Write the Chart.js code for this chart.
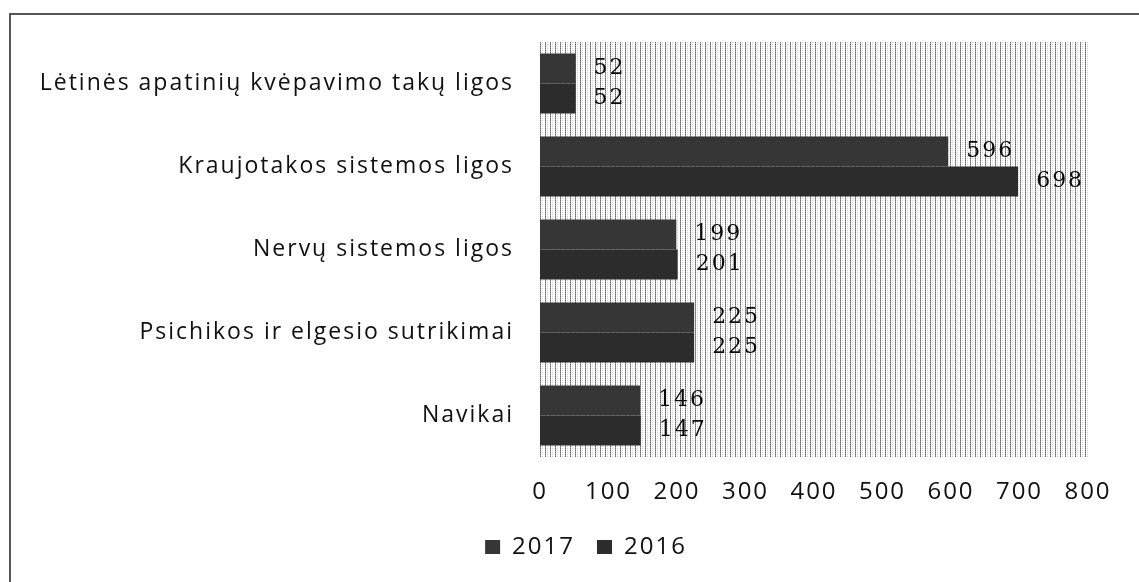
<!DOCTYPE html>
<html><head><meta charset="utf-8">
<script src="https://cdn.jsdelivr.net/npm/chart.js@4"></script>
<style>
html,body{margin:0;padding:0;background:#fff;}
#wrap{position:relative;width:1139px;height:582px;overflow:hidden;}
#frame{position:absolute;left:9px;top:13px;right:-4px;bottom:-4px;border-left:2px solid #555;border-top:2px solid #555;pointer-events:none;}
canvas{position:absolute;left:0;top:0;}
</style></head><body>
<div id="wrap"><canvas id="c" width="1139" height="582"></canvas><div id="frame"></div></div>
<script>
const categories = [
  'Lėtinės apatinių kvėpavimo takų ligos',
  'Kraujotakos sistemos ligos',
  'Nervų sistemos ligos',
  'Psichikos ir elgesio sutrikimai',
  'Navikai'
];
const seriesNames = ['2017', '2016'];
const values2017 = [52, 596, 199, 225, 146];
const values2016 = [52, 698, 201, 225, 147];
const xMin = 0, xMax = 800, xStep = 100;

// hatched plot background pattern
const pc = document.createElement('canvas');
pc.width = 5; pc.height = 2;
const p = pc.getContext('2d');
p.fillStyle = '#fff'; p.fillRect(0,0,5,2);
p.fillStyle = '#6a6a6a'; p.fillRect(0,0,1,1);
p.fillStyle = '#9a9a9a'; p.fillRect(0,1,1,1);
p.fillStyle = '#d0d0d0'; p.fillRect(2,0,1,1);
const c = document.getElementById('c');
const hatch = c.getContext('2d').createPattern(pc, 'repeat');

const spacing = {
  id: 'spacing',
  beforeInit(chart) { chart.ctx.letterSpacing = '2px'; },
  beforeLayout(chart) { chart.ctx.letterSpacing = '2px'; },
  afterLayout(chart) { if (chart.legend) chart.legend.left = 84; },
  beforeDraw(chart) { chart.ctx.letterSpacing = '2px'; }
};
const plotBg = {
  id: 'plotBg',
  beforeDatasetsDraw(chart) {
    const {ctx, chartArea: a} = chart;
    ctx.save();
    ctx.fillStyle = hatch;
    ctx.fillRect(a.left, a.top, a.right - a.left, a.bottom - a.top);
    ctx.restore();
  }
};
const valueLabels = {
  id: 'valueLabels',
  afterDatasetsDraw(chart) {
    const ctx = chart.ctx;
    ctx.save();
    ctx.letterSpacing = '2px';
    ctx.font = '22px "DejaVu Serif"';
    ctx.fillStyle = '#0a0a0a';
    ctx.textAlign = 'left';
    ctx.textBaseline = 'middle';
    chart.data.datasets.forEach((ds, di) => {
      chart.getDatasetMeta(di).data.forEach((el, i) => {
        ctx.fillText(String(ds.data[i]), el.x + 18, el.y);
      });
    });
    ctx.restore();
  }
};

Chart.defaults.font.family = '"Open Sans", sans-serif';
Chart.defaults.color = '#111';

new Chart(c, {
  type: 'bar',
  data: {
    labels: categories,
    datasets: [
      {label: seriesNames[0], data: values2017, backgroundColor: '#363636'},
      {label: seriesNames[1], data: values2016, backgroundColor: '#2c2c2c'}
    ]
  },
  options: {
    indexAxis: 'y',
    responsive: false,
    animation: false,
    devicePixelRatio: 1,
    categoryPercentage: 0.72,
    barPercentage: 1.0,
    layout: {padding: {left: 0, top: 42, right: 51, bottom: 13}},
    scales: {
      x: {
        min: xMin, max: xMax,
        ticks: {stepSize: xStep, font: {size: 24}, padding: 21, color: '#111'},
        grid: {display: false, drawTicks: false},
        border: {display: false},
        afterFit(s) { s.height = 56; }
      },
      y: {
        ticks: {font: {size: 23}, padding: 26, color: '#111'},
        grid: {display: false, drawTicks: false},
        border: {display: false},
        afterFit(s) { s.width = 540; }
      }
    },
    plugins: {
      legend: {
        position: 'bottom',
        labels: {boxWidth: 15, boxHeight: 14, font: {size: 24}, color: '#111', padding: 22}
      },
      tooltip: {enabled: false}
    }
  },
  plugins: [spacing, plotBg, valueLabels]
});
</script>
</body></html>
